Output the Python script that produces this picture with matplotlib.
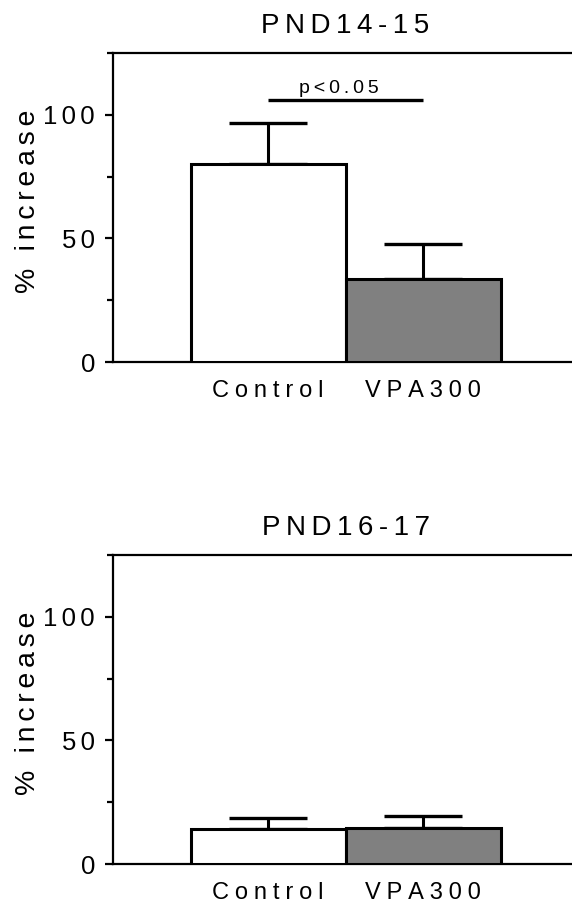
import matplotlib
matplotlib.use("Agg")
import matplotlib.pyplot as plt
from matplotlib.ticker import MultipleLocator

plt.rcParams['font.family'] = ['Liberation Sans', 'DejaVu Sans']

# data
groups = ['Control', 'VPA300']
titles = ['PND14-15', 'PND16-17']
means = [[80.2, 33.6], [14.0, 14.4]]
sems = [[16.6, 14.2], [4.7, 5.2]]
bar_colors = ['white', '#808080']
sig_text = 'p<0.05'
sig_y = 106


def spaced(s, sep):
    # wide letter spacing like the original figure
    return sep.join(list(s))


fig = plt.figure(figsize=(5.72, 9.11), dpi=100)
W, H = 572, 911
boxes = [(113, 53, 578, 362), (113, 555, 578, 864)]
title_y = [26, 528]

for i, (x0, y0, x1, y1) in enumerate(boxes):
    ax = fig.add_axes([x0 / W, 1 - y1 / H, (x1 - x0) / W, (y1 - y0) / H])
    x = list(range(len(groups)))
    ax.bar(x, means[i], width=1.0, color=bar_colors, edgecolor='black',
           linewidth=2.2, zorder=3)
    ax.errorbar(x, means[i], yerr=[[0] * len(x), sems[i]], fmt='none',
                ecolor='black', elinewidth=2.2, capsize=28, capthick=2.4,
                zorder=2)
    ax.set_xlim(-1, 2)
    ax.set_ylim(0, 125)
    ax.spines['right'].set_visible(False)
    for s in ['left', 'top', 'bottom']:
        ax.spines[s].set_linewidth(1.6)
    ax.set_yticks([0, 50, 100])
    ax.set_yticklabels([spaced(str(v), '\u2006') for v in [0, 50, 100]],
                       fontsize=18.5)
    ax.yaxis.set_minor_locator(MultipleLocator(25))
    ax.tick_params(axis='y', which='major', length=6, width=1.6, pad=7)
    ax.tick_params(axis='y', which='minor', length=4, width=1.6)
    ax.set_xticks(x)
    ax.set_xticklabels([spaced(g, '\u2005') for g in groups], fontsize=17)
    ax.tick_params(axis='x', length=0, pad=13)
    ax.set_ylabel(spaced('% increase', '\u2006'), fontsize=20.5)
    ax.yaxis.set_label_coords(-(x0 - 41) / (x1 - x0), 0.52)
    ax.set_title(spaced(titles[i], '\u2009'), fontsize=20, pad=0, y=1.0)
    ax.title.set_position((0.5, 1 + (y0 - title_y[i]) / (y1 - y0)))
    ax.title.set_va('center')
    if i == 0:
        ax.plot([0, 1], [sig_y, sig_y], color='black', linewidth=2.4,
                solid_capstyle='butt')
        ax.text(0.46, sig_y + 2.8, spaced(sig_text, '\u2009'), fontsize=14,
                ha='center', va='baseline')

fig.savefig('out.png', dpi=100)
